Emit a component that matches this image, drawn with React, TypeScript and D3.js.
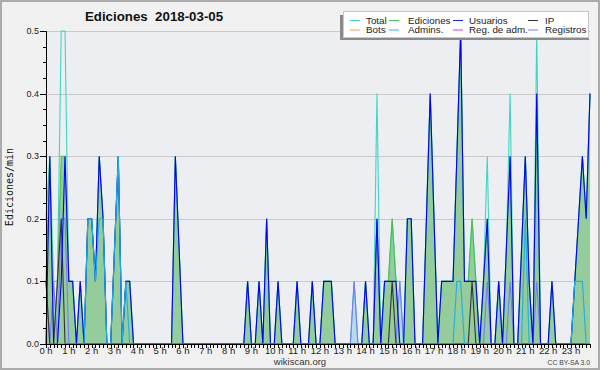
import React from 'react';
import * as d3 from 'd3';

const W = 600;
const H = 370;

// Tick labels
const HOUR_LABELS = ['0 h','1 h','2 h','3 h','4 h','5 h','6 h','7 h','8 h','9 h','10 h','11 h','12 h','13 h','14 h','15 h','16 h','17 h','18 h','19 h','20 h','21 h','22 h','23 h'];
const Y_LABELS = ['0.0', '0.1', '0.2', '0.3', '0.4', '0.5'];
const Y_VALUES = [0, 0.1, 0.2, 0.3, 0.4, 0.5];

// Values per 10-minute slot (edits/min), 144 slots
const TOTAL = [
  0.2,0.3,0.1,0.1,0.5,0.5, 0.1,0.1,0,0.1,0,0.2, 0.2,0.1,0.3,0.2,0,0, 0.15,0.3,0,0.1,0.1,0,
  0,0,0,0,0,0, 0,0,0,0,0.3,0.15, 0,0,0,0,0,0, 0,0,0,0,0,0,
  0,0,0,0,0,0.1, 0,0,0.1,0,0.2,0, 0,0.1,0,0,0,0, 0.1,0,0,0,0.1,0,
  0,0.1,0.1,0.1,0,0, 0,0,0,0.1,0,0, 0.1,0,0,0.4,0,0.1, 0.1,0.2,0.1,0.1,0,0.2,
  0.2,0,0,0,0.2,0.4, 0.2,0,0.1,0.1,0.1,0.1, 0.3,0.5,0.1,0.1,0.2,0.1, 0,0.1,0.3,0,0,0.1,
  0,0.15,0.4,0,0,0.15, 0.3,0.1,0,0.5,0,0, 0,0.1,0,0,0,0, 0,0.1,0.2,0.3,0.2,0.4,
];
const EDICIONES = [
  0.1,0.3,0,0.1,0.3,0.3, 0.1,0.1,0,0.1,0,0.2, 0.2,0.1,0.3,0.2,0,0, 0.15,0.3,0,0.1,0.1,0,
  0,0,0,0,0,0, 0,0,0,0,0.3,0.15, 0,0,0,0,0,0, 0,0,0,0,0,0,
  0,0,0,0,0,0.1, 0,0,0.1,0,0.2,0, 0,0.1,0,0,0,0, 0.1,0,0,0,0.1,0,
  0,0.1,0.1,0.1,0,0, 0,0,0,0,0,0, 0.1,0,0,0.2,0,0.1, 0.1,0.2,0.1,0,0,0.2,
  0.2,0,0,0,0.2,0.4, 0.2,0,0.1,0.1,0.1,0.1, 0.3,0.5,0.1,0.1,0.2,0.1, 0,0.1,0.2,0,0,0.1,
  0,0.15,0.3,0,0,0.15, 0.3,0.1,0,0.4,0,0, 0,0.1,0,0,0,0, 0,0.1,0.2,0.3,0.2,0.4,
];
const USUARIOS = [
  0,0.3,0,0,0.1,0.3, 0.1,0.1,0,0.1,0,0.2, 0.2,0.1,0.3,0.2,0,0, 0.15,0.3,0,0.1,0.1,0,
  0,0,0,0,0,0, 0,0,0,0,0.3,0.15, 0,0,0,0,0,0, 0,0,0,0,0,0,
  0,0,0,0,0,0.1, 0,0,0.1,0,0.2,0, 0,0.1,0,0,0,0, 0.1,0,0,0,0.1,0,
  0,0.1,0.1,0.1,0,0, 0,0,0,0,0,0, 0.1,0,0,0.2,0,0.1, 0.1,0.1,0.1,0,0,0.2,
  0.2,0,0,0,0.2,0.4, 0.2,0,0.1,0.1,0.1,0.1, 0.3,0.5,0.1,0.1,0.1,0.1, 0,0.1,0.2,0,0,0.1,
  0,0.15,0.3,0,0,0.15, 0.3,0.1,0,0.4,0,0, 0,0.1,0,0,0,0, 0,0.1,0.2,0.3,0.2,0.4,
];
const IP = [
  0.1,0,0,0.1,0.2,0, 0,0,0,0,0,0, 0,0,0,0,0,0, 0,0,0,0,0,0,
  0,0,0,0,0,0, 0,0,0,0,0,0, 0,0,0,0,0,0, 0,0,0,0,0,0,
  0,0,0,0,0,0, 0,0,0,0,0,0, 0,0,0,0,0,0, 0,0,0,0,0,0,
  0,0,0,0,0,0, 0,0,0,0,0,0, 0,0,0,0,0,0, 0,0.1,0,0,0,0,
  0,0,0,0,0,0, 0,0,0,0,0,0, 0,0,0,0,0.1,0, 0,0,0,0,0,0,
  0,0,0,0,0,0, 0,0,0,0,0,0, 0,0,0,0,0,0, 0,0,0,0,0,0,
];
const ADMINS = [
  0,0,0,0,0,0, 0,0,0,0,0,0.2, 0.2,0.1,0.2,0.2,0,0, 0.15,0.3,0,0.1,0,0,
  0,0,0,0,0,0, 0,0,0,0,0,0, 0,0,0,0,0,0, 0,0,0,0,0,0,
  0,0,0,0,0,0, 0,0,0,0,0,0, 0,0,0,0,0,0, 0,0,0,0,0,0,
  0,0,0,0,0,0, 0,0,0,0,0,0, 0,0,0,0,0,0, 0,0,0,0,0,0,
  0,0,0,0,0,0, 0,0,0,0,0,0, 0.1,0.1,0,0,0,0, 0,0,0,0,0,0,
  0,0,0,0,0,0, 0.2,0,0,0,0,0, 0,0,0,0,0,0, 0,0.1,0.1,0.1,0,0,
];
const REGISTROS = [
  0.1,0,0.1,0,0.2,0.2, 0,0,0,0,0,0, 0,0,0,0,0,0, 0,0,0,0,0,0,
  0,0,0,0,0,0, 0,0,0,0,0,0, 0,0,0,0,0,0, 0,0,0,0,0,0,
  0,0,0,0,0,0, 0,0,0,0,0,0, 0,0,0,0,0,0, 0,0,0,0,0,0,
  0,0,0,0,0,0, 0,0,0,0.1,0,0, 0,0,0,0.2,0,0, 0,0,0,0.1,0,0,
  0,0,0,0,0,0, 0,0,0,0,0,0, 0,0,0,0,0,0, 0,0,0.1,0,0,0,
  0,0,0.1,0,0,0, 0,0,0,0.1,0,0, 0,0,0,0,0,0, 0,0,0,0,0,0,
];

const LEGEND = [
  { label: 'Total', color: '#3fd6c4' },
  { label: 'Ediciones', color: '#4cbf4c' },
  { label: 'Usuarios', color: '#2020f0' },
  { label: 'IP', color: '#333333' },
  { label: 'Bots', color: '#f5a33a' },
  { label: 'Admins.', color: '#2fb8e0' },
  { label: 'Reg. de adm.', color: '#c43fe0' },
  { label: 'Registros', color: '#7a7af5' },
];

const X0 = 46, X1 = 590, Y0 = 344, Y1 = 31;

export default function App() {
  const x = d3.scaleLinear().domain([0, 143]).range([X0, X1]);
  const y = d3.scaleLinear().domain([0, 0.5]).range([Y0, Y1]);
  const line = d3.line<number>().x((_, i) => x(i)).y((d) => y(d));
  const area = d3.area<number>().x((_, i) => x(i)).y0(y(0)).y1((d) => y(d));

  const minorY = d3.range(0, 0.5001, 0.025);
  const xTicks = d3.range(0, 144);
  const font = 'Liberation Sans, Arial, sans-serif';

  const colX = [350, 389, 453, 528];
  const textX = [366, 408, 469, 545];
  const rowY = [20.5, 30];

  return (
    <svg width={W} height={H} style={{ position: 'absolute', left: 0, top: 0 }}>
      <rect x={0} y={0} width={W} height={H} fill="#f1f1f1" />
      <rect x={1} y={1} width={W - 2} height={H - 2} fill="none" stroke="#ababab" strokeWidth={2} />
      <rect x={X0} y={Y1} width={X1 - X0} height={Y0 - Y1} fill="#eceef1" />
      {Y_VALUES.slice(1).map((v) => (
        <line key={v} x1={X0} x2={X1} y1={Math.round(y(v)) + 0.5} y2={Math.round(y(v)) + 0.5} stroke="#c9c9c9" strokeWidth={1} />
      ))}

      <path d={area(REGISTROS) || ''} fill="#b6d9ef" />
      <path d={area(EDICIONES) || ''} fill="#94cc9c" />

      <path d={line(TOTAL) || ''} fill="none" stroke="#3fd6c4" strokeWidth={1.1} />
      <path d={line(EDICIONES) || ''} fill="none" stroke="#4cbf4c" strokeWidth={1.1} />
      <path d={line(REGISTROS) || ''} fill="none" stroke="#7a7af5" strokeWidth={1.1} />
      <path d={line(IP) || ''} fill="none" stroke="#333333" strokeWidth={1.1} />
      <path d={line(USUARIOS) || ''} fill="none" stroke="#0000ff" strokeWidth={1.1} />
      <path d={line(ADMINS) || ''} fill="none" stroke="#22aee0" strokeWidth={1.1} />

      {/* axes */}
      <line x1={X0 + 0.5} x2={X0 + 0.5} y1={Y1} y2={Y0 + 1} stroke="#000" strokeWidth={1} />
      <line x1={X0} x2={X1 + 1} y1={Y0 + 0.5} y2={Y0 + 0.5} stroke="#000" strokeWidth={1} />
      {minorY.map((v, i) => (
        <line key={'my' + i} x1={i % 4 === 0 ? X0 - 6 : X0 - 3} x2={X0} y1={Math.round(y(v)) + 0.5} y2={Math.round(y(v)) + 0.5} stroke="#000" strokeWidth={1} />
      ))}
      {Y_VALUES.map((v, i) => (
        <text key={'yl' + i} x={39} y={y(v) + 3} textAnchor="end" fontFamily={font} fontSize={9} fill="#222">{Y_LABELS[i]}</text>
      ))}
      {xTicks.map((t) => (
        <line key={'xt' + t} x1={Math.round(x(t)) + 0.5} x2={Math.round(x(t)) + 0.5} y1={Y0} y2={Y0 + 4} stroke="#000" strokeWidth={1} />
      ))}
      {HOUR_LABELS.map((lab, h) => (
        <text key={lab} x={x(h * 6)} y={354} textAnchor="middle" fontFamily={font} fontSize={9.5} fill="#222">{lab}</text>
      ))}

      <text transform={`translate(13,187) rotate(-90)`} textAnchor="middle" fontFamily="DejaVu Sans Mono, monospace" fontSize={10} fill="#111">Ediciones/min</text>

      <text x={154} y={21} textAnchor="middle" fontFamily={font} fontWeight="bold" fontSize={13.3} fill="#111" style={{ whiteSpace: 'pre' }}>{'Ediciones  2018-03-05'}</text>
      <text x={300} y={365} textAnchor="middle" fontFamily={font} fontSize={9.5} fill="#333">wikiscan.org</text>
      <text x={590} y={365} textAnchor="end" fontFamily={font} fontSize={6.8} fill="#444">CC BY-SA 3.0</text>

      {/* legend */}
      <rect x={340} y={15} width={249} height={25} fill="#8a8a8a" />
      <rect x={343.5} y={11.5} width={245} height={26} fill="#ffffff" stroke="#c8c8c8" />
      {LEGEND.map((it, k) => {
        const c = k % 4;
        const r = Math.floor(k / 4);
        return (
          <g key={it.label}>
            <line x1={colX[c]} x2={colX[c] + 10} y1={rowY[r]} y2={rowY[r]} stroke={it.color} strokeWidth={1} />
            <text x={textX[c]} y={rowY[r] + 3} fontFamily={font} fontSize={9.8} fill="#222">{it.label}</text>
          </g>
        );
      })}
    </svg>
  );
}
